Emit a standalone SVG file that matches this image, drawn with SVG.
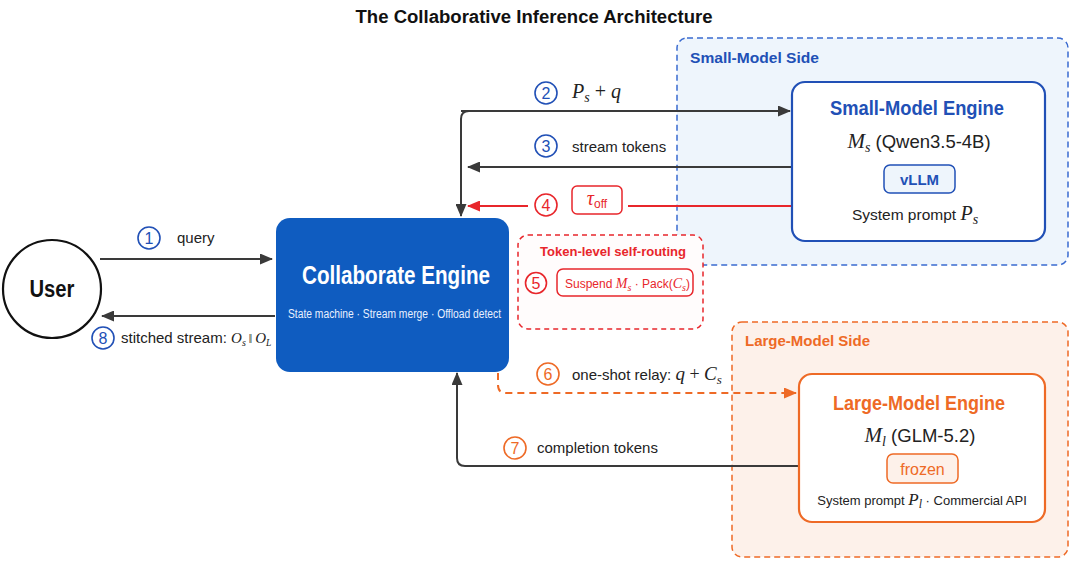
<svg xmlns="http://www.w3.org/2000/svg" width="1080" height="564" viewBox="0 0 1080 564">
<style>
.sans{font-family:"Liberation Sans",Arial,sans-serif}
.math{font-family:"Liberation Serif","Times New Roman",serif;font-style:italic}
.up{font-style:normal}
.num{font-family:"Liberation Sans",Arial,sans-serif;font-size:16px;text-anchor:middle}
.lbl{font-family:"Liberation Sans",Arial,sans-serif;font-size:15px;fill:#222}
.blue{fill:#2150b6}
.red{fill:#e8262b}
.orange{fill:#ee6a26}
.cb{fill:#fff;stroke:#2150b6;stroke-width:1.6}
.cr{fill:#fff;stroke:#e8262b;stroke-width:1.6}
.co{fill:#fff;stroke:#ee6a26;stroke-width:1.6}
.line{fill:none;stroke:#3a3a3a;stroke-width:2}
.rline{fill:none;stroke:#e8262b;stroke-width:2}
.oline{fill:none;stroke:#ee6a26;stroke-width:2;stroke-dasharray:7 5}
</style>
<defs>
<marker id="ad" markerUnits="userSpaceOnUse" markerWidth="13" markerHeight="11" refX="12" refY="5.5" orient="auto"><path d="M0,0 L13,5.5 L0,11 z" fill="#3a3a3a"/></marker>
<marker id="ar" markerUnits="userSpaceOnUse" markerWidth="13" markerHeight="11" refX="12" refY="5.5" orient="auto"><path d="M0,0 L13,5.5 L0,11 z" fill="#e8262b"/></marker>
<marker id="ao" markerUnits="userSpaceOnUse" markerWidth="13" markerHeight="11" refX="12" refY="5.5" orient="auto"><path d="M0,0 L13,5.5 L0,11 z" fill="#ee6a26"/></marker>
</defs>
<rect width="1080" height="564" fill="#fff"/>
<text x="534" y="23" class="sans" font-size="18" font-weight="bold" text-anchor="middle" fill="#111" textLength="357" lengthAdjust="spacingAndGlyphs">The Collaborative Inference Architecture</text>

<g id="small-side">
<rect x="677" y="38" width="391" height="227" rx="10" fill="#eef5fc" stroke="#3a6bd0" stroke-width="1.5" stroke-dasharray="6 4"/>
<text x="690" y="63" class="sans blue" font-size="15.5" font-weight="bold" textLength="129" lengthAdjust="spacingAndGlyphs">Small-Model Side</text>
</g>

<g id="large-side">
<rect x="732" y="322" width="336" height="235" rx="10" fill="#fdf1ea" stroke="#ee6a26" stroke-width="1.5" stroke-dasharray="6 4"/>
<text x="745" y="346" class="sans orange" font-size="15.5" font-weight="bold" textLength="125" lengthAdjust="spacingAndGlyphs">Large-Model Side</text>
</g>

<g id="connectors">
<path class="line" d="M100,259 H272" marker-end="url(#ad)"/>
<path class="line" d="M275,316 H102" marker-end="url(#ad)"/>
<path class="line" d="M461,111 H790" marker-end="url(#ad)"/>
<path class="line" d="M469,111 Q461,111 461,119 V216" marker-end="url(#ad)"/>
<path class="line" d="M792,167 H468" marker-end="url(#ad)"/>
<path class="rline" d="M792,206 H628"/>
<path class="rline" d="M528,206 H468" marker-end="url(#ar)"/>
<path class="rline" d="M613,298 V324" marker-end="url(#ar)"/>
<path class="oline" d="M498,373 V385 Q498,393 506,393 H796" marker-end="url(#ao)"/>
<path class="line" d="M799,466 H465 Q457,466 457,458 V373" marker-end="url(#ad)"/>
</g>

<g id="label-1">
<circle cx="149" cy="238" r="11" class="cb"/><text x="149" y="244" class="num blue">1</text>
<text x="177" y="243" class="lbl">query</text>
</g>
<g id="label-8">
<circle cx="103" cy="338" r="11" class="cb"/><text x="103" y="344" class="num blue">8</text>
<text x="121" y="343" class="lbl" font-size="12.5">stitched stream: <tspan class="math" font-size="15">O</tspan><tspan class="math" font-size="10" dy="3">s</tspan><tspan class="math up" font-size="12" dy="-3"> ‖ </tspan><tspan class="math" font-size="15">O</tspan><tspan class="math" font-size="9.5" dy="3">L</tspan></text>
</g>
<g id="label-2">
<circle cx="546" cy="93" r="11" class="cb"/><text x="546" y="99" class="num blue">2</text>
<text x="572" y="98" class="math" font-size="20" fill="#222">P<tspan font-size="14" dy="4">s</tspan><tspan class="up" dy="-4"> + </tspan>q</text>
</g>
<g id="label-3">
<circle cx="546" cy="146" r="11" class="cb"/><text x="546" y="152" class="num blue">3</text>
<text x="572" y="152" class="lbl">stream tokens</text>
</g>
<g id="label-4">
<circle cx="546" cy="205" r="11" class="cr"/><text x="546" y="211" class="num red">4</text>
<rect x="572" y="186" width="50" height="28" rx="5" fill="#fff" stroke="#e8262b" stroke-width="1.5"/>
<text x="597" y="205" class="math red" font-size="20" text-anchor="middle">τ<tspan class="sans up" font-size="12" dy="3">off</tspan></text>
</g>

<g id="token-routing">
<rect x="518" y="235" width="185" height="94" rx="10" fill="#fffcfc" stroke="#e8262b" stroke-width="1.5" stroke-dasharray="5 4"/>
<text x="613" y="256" class="sans red" font-size="13" font-weight="bold" text-anchor="middle" textLength="146" lengthAdjust="spacingAndGlyphs">Token-level self-routing</text>
<circle cx="536" cy="283" r="10.5" class="cr"/><text x="536" y="289" class="num red">5</text>
<rect x="557" y="269" width="136" height="27" rx="6" fill="#fff" stroke="#e8262b" stroke-width="1.5"/>
<text x="565" y="288" class="sans red" font-size="12">Suspend <tspan class="math" font-size="14">M</tspan><tspan class="math" font-size="10" dy="3">s</tspan><tspan dy="-3"> · Pack(</tspan><tspan class="math" font-size="14">C</tspan><tspan class="math" font-size="10" dy="3">s</tspan><tspan dy="-3">)</tspan></text>
</g>

<g id="label-6">
<circle cx="548" cy="374" r="11" class="co"/><text x="548" y="380" class="num orange">6</text>
<text x="572" y="380" class="lbl">one-shot relay: <tspan class="math" font-size="19">q</tspan><tspan class="math up" font-size="18"> + </tspan><tspan class="math" font-size="19">C</tspan><tspan class="math" font-size="13" dy="4">s</tspan></text>
</g>
<g id="label-7">
<circle cx="515" cy="448" r="11" class="co"/><text x="515" y="454" class="num orange">7</text>
<text x="537" y="453" class="lbl">completion tokens</text>
</g>

<g id="user">
<circle cx="52" cy="289" r="49" fill="#fff" stroke="#111" stroke-width="2.2"/>
<text x="52" y="297" class="sans" font-size="24" font-weight="bold" text-anchor="middle" fill="#111" textLength="45" lengthAdjust="spacingAndGlyphs">User</text>
</g>

<g id="collaborate-engine">
<rect x="276" y="218" width="233" height="154" rx="14" fill="#0f5cc0"/>
<text x="396" y="284" class="sans" font-size="26" font-weight="bold" fill="#fff" text-anchor="middle" textLength="188" lengthAdjust="spacingAndGlyphs">Collaborate Engine</text>
<text x="394.5" y="318" class="sans" font-size="12.5" fill="#e8f0ff" text-anchor="middle" textLength="213" lengthAdjust="spacingAndGlyphs">State machine · Stream merge · Offload detect</text>
</g>

<g id="small-engine">
<rect x="792" y="82" width="253" height="159" rx="13" fill="#fff" stroke="#2150b6" stroke-width="2.2"/>
<text x="917" y="115" class="sans blue" font-size="20" font-weight="bold" text-anchor="middle" textLength="174" lengthAdjust="spacingAndGlyphs">Small-Model Engine</text>
<text x="919" y="148" class="sans" font-size="18.5" fill="#222" text-anchor="middle"><tspan class="math" font-size="21">M</tspan><tspan class="math" font-size="14" dy="4">s</tspan><tspan dy="-4"> (Qwen3.5-4B)</tspan></text>
<rect x="884" y="165" width="71" height="28" rx="6" fill="#eef5fc" stroke="#2150b6" stroke-width="1.5"/>
<text x="919.5" y="185" class="sans blue" font-size="15" font-weight="bold" text-anchor="middle">vLLM</text>
<text x="915" y="220" class="sans" font-size="15.5" fill="#222" text-anchor="middle">System prompt <tspan class="math" font-size="20">P</tspan><tspan class="math" font-size="14" dy="4">s</tspan></text>
</g>

<g id="large-engine">
<rect x="799" y="374" width="246" height="148" rx="13" fill="#fff" stroke="#ee6a26" stroke-width="2.2"/>
<text x="919" y="410" class="sans orange" font-size="20" font-weight="bold" text-anchor="middle" textLength="172" lengthAdjust="spacingAndGlyphs">Large-Model Engine</text>
<text x="920" y="442" class="sans" font-size="18.5" fill="#222" text-anchor="middle"><tspan class="math" font-size="21">M</tspan><tspan class="math" font-size="14" dy="4">l</tspan><tspan dy="-4"> (GLM-5.2)</tspan></text>
<rect x="887" y="454" width="71" height="29" rx="6" fill="#fdf1ea" stroke="#ee6a26" stroke-width="1.5"/>
<text x="922.5" y="475" class="sans orange" font-size="16" text-anchor="middle">frozen</text>
<text x="922" y="505" class="sans" font-size="13" fill="#222" text-anchor="middle">System prompt <tspan class="math" font-size="17">P</tspan><tspan class="math" font-size="12" dy="3">l</tspan><tspan dy="-3">  ·  Commercial API</tspan></text>
</g>
</svg>
